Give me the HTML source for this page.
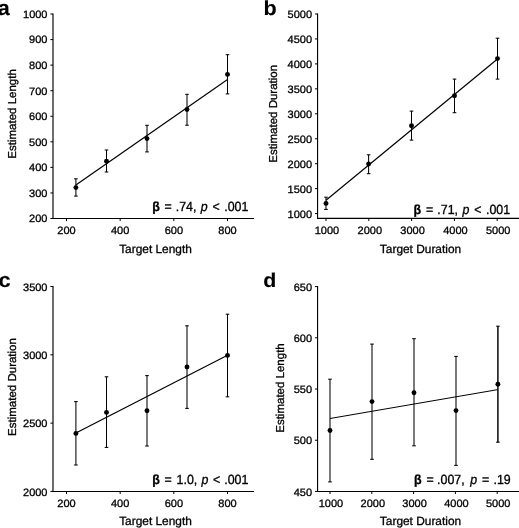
<!DOCTYPE html>
<html><head><meta charset="utf-8"><title>Figure</title>
<style>
html,body{margin:0;padding:0;background:#fff;}
svg{display:block;font-family:"Liberation Sans",sans-serif;fill:#000;text-rendering:geometricPrecision;will-change:transform;filter:grayscale(1);}
text{stroke:#000;stroke-width:0.3px;}
</style></head><body>
<svg width="519" height="528" viewBox="0 0 519 528">
<rect width="519" height="528" fill="#fff"/>
<line x1="53.00" y1="13.50" x2="53.00" y2="219.00" stroke="#000" stroke-width="1.15" />
<line x1="52.50" y1="218.50" x2="254.00" y2="218.50" stroke="#000" stroke-width="1.15" />
<line x1="50.40" y1="218.50" x2="53.00" y2="218.50" stroke="#000" stroke-width="1.0" />
<text transform="translate(47.50,222.40) scale(1.03,1.0)" font-size="10.7" text-anchor="end" font-weight="normal" >200</text>
<line x1="50.40" y1="192.94" x2="53.00" y2="192.94" stroke="#000" stroke-width="1.0" />
<text transform="translate(47.50,196.84) scale(1.03,1.0)" font-size="10.7" text-anchor="end" font-weight="normal" >300</text>
<line x1="50.40" y1="167.38" x2="53.00" y2="167.38" stroke="#000" stroke-width="1.0" />
<text transform="translate(47.50,171.28) scale(1.03,1.0)" font-size="10.7" text-anchor="end" font-weight="normal" >400</text>
<line x1="50.40" y1="141.82" x2="53.00" y2="141.82" stroke="#000" stroke-width="1.0" />
<text transform="translate(47.50,145.72) scale(1.03,1.0)" font-size="10.7" text-anchor="end" font-weight="normal" >500</text>
<line x1="50.40" y1="116.26" x2="53.00" y2="116.26" stroke="#000" stroke-width="1.0" />
<text transform="translate(47.50,120.16) scale(1.03,1.0)" font-size="10.7" text-anchor="end" font-weight="normal" >600</text>
<line x1="50.40" y1="90.70" x2="53.00" y2="90.70" stroke="#000" stroke-width="1.0" />
<text transform="translate(47.50,94.60) scale(1.03,1.0)" font-size="10.7" text-anchor="end" font-weight="normal" >700</text>
<line x1="50.40" y1="65.14" x2="53.00" y2="65.14" stroke="#000" stroke-width="1.0" />
<text transform="translate(47.50,69.04) scale(1.03,1.0)" font-size="10.7" text-anchor="end" font-weight="normal" >800</text>
<line x1="50.40" y1="39.58" x2="53.00" y2="39.58" stroke="#000" stroke-width="1.0" />
<text transform="translate(47.50,43.48) scale(1.03,1.0)" font-size="10.7" text-anchor="end" font-weight="normal" >900</text>
<line x1="50.40" y1="14.02" x2="53.00" y2="14.02" stroke="#000" stroke-width="1.0" />
<text transform="translate(47.50,17.92) scale(1.03,1.0)" font-size="10.7" text-anchor="end" font-weight="normal" >1000</text>
<line x1="66.50" y1="218.50" x2="66.50" y2="221.10" stroke="#000" stroke-width="1.0" />
<text transform="translate(66.50,233.80) scale(1.03,1.0)" font-size="10.7" text-anchor="middle" font-weight="normal" >200</text>
<line x1="120.17" y1="218.50" x2="120.17" y2="221.10" stroke="#000" stroke-width="1.0" />
<text transform="translate(120.17,233.80) scale(1.03,1.0)" font-size="10.7" text-anchor="middle" font-weight="normal" >400</text>
<line x1="173.83" y1="218.50" x2="173.83" y2="221.10" stroke="#000" stroke-width="1.0" />
<text transform="translate(173.83,233.80) scale(1.03,1.0)" font-size="10.7" text-anchor="middle" font-weight="normal" >600</text>
<line x1="227.50" y1="218.50" x2="227.50" y2="221.10" stroke="#000" stroke-width="1.0" />
<text transform="translate(227.50,233.80) scale(1.03,1.0)" font-size="10.7" text-anchor="middle" font-weight="normal" >800</text>
<line x1="75.90" y1="178.80" x2="75.90" y2="196.10" stroke="#000" stroke-width="1.05" />
<line x1="74.10" y1="178.80" x2="77.70" y2="178.80" stroke="#000" stroke-width="1.05" />
<line x1="74.10" y1="196.10" x2="77.70" y2="196.10" stroke="#000" stroke-width="1.05" />
<line x1="106.50" y1="150.00" x2="106.50" y2="172.00" stroke="#000" stroke-width="1.05" />
<line x1="104.70" y1="150.00" x2="108.30" y2="150.00" stroke="#000" stroke-width="1.05" />
<line x1="104.70" y1="172.00" x2="108.30" y2="172.00" stroke="#000" stroke-width="1.05" />
<line x1="147.00" y1="125.30" x2="147.00" y2="151.90" stroke="#000" stroke-width="1.05" />
<line x1="145.20" y1="125.30" x2="148.80" y2="125.30" stroke="#000" stroke-width="1.05" />
<line x1="145.20" y1="151.90" x2="148.80" y2="151.90" stroke="#000" stroke-width="1.05" />
<line x1="187.00" y1="94.30" x2="187.00" y2="125.20" stroke="#000" stroke-width="1.05" />
<line x1="185.20" y1="94.30" x2="188.80" y2="94.30" stroke="#000" stroke-width="1.05" />
<line x1="185.20" y1="125.20" x2="188.80" y2="125.20" stroke="#000" stroke-width="1.05" />
<line x1="227.50" y1="54.70" x2="227.50" y2="93.90" stroke="#000" stroke-width="1.05" />
<line x1="225.70" y1="54.70" x2="229.30" y2="54.70" stroke="#000" stroke-width="1.05" />
<line x1="225.70" y1="93.90" x2="229.30" y2="93.90" stroke="#000" stroke-width="1.05" />
<line x1="75.90" y1="185.00" x2="227.50" y2="79.40" stroke="#000" stroke-width="1.2" />
<circle cx="75.90" cy="187.60" r="2.45" fill="#000"/>
<circle cx="106.50" cy="161.20" r="2.45" fill="#000"/>
<circle cx="147.00" cy="138.60" r="2.45" fill="#000"/>
<circle cx="187.00" cy="109.50" r="2.45" fill="#000"/>
<circle cx="227.50" cy="74.40" r="2.45" fill="#000"/>
<text transform="translate(155.50,252.80)" font-size="11.9" text-anchor="middle" font-weight="normal" >Target Length</text>
<text transform="translate(15.50,113.90) rotate(-90)" font-size="11.5" text-anchor="middle" font-weight="normal" >Estimated Length</text>
<text transform="translate(152.20,211.20) scale(1.0,1.07)" font-size="12.4" text-anchor="start" font-weight="bold" >β</text>
<text transform="translate(164.50,211.20) scale(1.0,1.07)" font-size="12.4" text-anchor="start" font-weight="normal" >=</text>
<text transform="translate(175.70,211.20) scale(1.0,1.07)" font-size="12.4" text-anchor="start" font-weight="normal" >.74,</text>
<text transform="translate(200.75,211.20) scale(1.0,1.07)" font-size="12.4" text-anchor="start" font-weight="normal" font-style="italic">p</text>
<text transform="translate(212.60,211.20) scale(1.0,1.07)" font-size="12.4" text-anchor="start" font-weight="normal" >&lt;</text>
<text transform="translate(224.20,211.20) scale(1.0,1.07)" font-size="12.4" text-anchor="start" font-weight="normal" >.001</text>
<text transform="translate(-2.30,14.70) scale(1.04,1.0)" font-size="20.8" text-anchor="start" font-weight="bold" style="stroke-width:0.1px">a</text>
<line x1="317.55" y1="13.40" x2="317.55" y2="218.90" stroke="#000" stroke-width="1.15" />
<line x1="317.05" y1="218.40" x2="519.00" y2="218.40" stroke="#000" stroke-width="1.15" />
<line x1="314.95" y1="213.60" x2="317.55" y2="213.60" stroke="#000" stroke-width="1.0" />
<text transform="translate(312.05,217.90) scale(1.03,1.0)" font-size="10.7" text-anchor="end" font-weight="normal" >1000</text>
<line x1="314.95" y1="188.65" x2="317.55" y2="188.65" stroke="#000" stroke-width="1.0" />
<text transform="translate(312.05,192.95) scale(1.03,1.0)" font-size="10.7" text-anchor="end" font-weight="normal" >1500</text>
<line x1="314.95" y1="163.70" x2="317.55" y2="163.70" stroke="#000" stroke-width="1.0" />
<text transform="translate(312.05,168.00) scale(1.03,1.0)" font-size="10.7" text-anchor="end" font-weight="normal" >2000</text>
<line x1="314.95" y1="138.75" x2="317.55" y2="138.75" stroke="#000" stroke-width="1.0" />
<text transform="translate(312.05,143.05) scale(1.03,1.0)" font-size="10.7" text-anchor="end" font-weight="normal" >2500</text>
<line x1="314.95" y1="113.80" x2="317.55" y2="113.80" stroke="#000" stroke-width="1.0" />
<text transform="translate(312.05,118.10) scale(1.03,1.0)" font-size="10.7" text-anchor="end" font-weight="normal" >3000</text>
<line x1="314.95" y1="88.85" x2="317.55" y2="88.85" stroke="#000" stroke-width="1.0" />
<text transform="translate(312.05,93.15) scale(1.03,1.0)" font-size="10.7" text-anchor="end" font-weight="normal" >3500</text>
<line x1="314.95" y1="63.90" x2="317.55" y2="63.90" stroke="#000" stroke-width="1.0" />
<text transform="translate(312.05,68.20) scale(1.03,1.0)" font-size="10.7" text-anchor="end" font-weight="normal" >4000</text>
<line x1="314.95" y1="38.95" x2="317.55" y2="38.95" stroke="#000" stroke-width="1.0" />
<text transform="translate(312.05,43.25) scale(1.03,1.0)" font-size="10.7" text-anchor="end" font-weight="normal" >4500</text>
<line x1="314.95" y1="14.00" x2="317.55" y2="14.00" stroke="#000" stroke-width="1.0" />
<text transform="translate(312.05,18.30) scale(1.03,1.0)" font-size="10.7" text-anchor="end" font-weight="normal" >5000</text>
<line x1="326.00" y1="218.40" x2="326.00" y2="221.00" stroke="#000" stroke-width="1.0" />
<text transform="translate(327.00,233.70) scale(1.03,1.0)" font-size="10.7" text-anchor="middle" font-weight="normal" >1000</text>
<line x1="368.80" y1="218.40" x2="368.80" y2="221.00" stroke="#000" stroke-width="1.0" />
<text transform="translate(369.80,233.70) scale(1.03,1.0)" font-size="10.7" text-anchor="middle" font-weight="normal" >2000</text>
<line x1="411.60" y1="218.40" x2="411.60" y2="221.00" stroke="#000" stroke-width="1.0" />
<text transform="translate(412.60,233.70) scale(1.03,1.0)" font-size="10.7" text-anchor="middle" font-weight="normal" >3000</text>
<line x1="454.40" y1="218.40" x2="454.40" y2="221.00" stroke="#000" stroke-width="1.0" />
<text transform="translate(455.40,233.70) scale(1.03,1.0)" font-size="10.7" text-anchor="middle" font-weight="normal" >4000</text>
<line x1="497.20" y1="218.40" x2="497.20" y2="221.00" stroke="#000" stroke-width="1.0" />
<text transform="translate(498.20,233.70) scale(1.03,1.0)" font-size="10.7" text-anchor="middle" font-weight="normal" >5000</text>
<line x1="326.00" y1="197.20" x2="326.00" y2="209.40" stroke="#000" stroke-width="1.05" />
<line x1="324.20" y1="197.20" x2="327.80" y2="197.20" stroke="#000" stroke-width="1.05" />
<line x1="324.20" y1="209.40" x2="327.80" y2="209.40" stroke="#000" stroke-width="1.05" />
<line x1="368.60" y1="154.80" x2="368.60" y2="173.70" stroke="#000" stroke-width="1.05" />
<line x1="366.80" y1="154.80" x2="370.40" y2="154.80" stroke="#000" stroke-width="1.05" />
<line x1="366.80" y1="173.70" x2="370.40" y2="173.70" stroke="#000" stroke-width="1.05" />
<line x1="411.50" y1="111.10" x2="411.50" y2="140.10" stroke="#000" stroke-width="1.05" />
<line x1="409.70" y1="111.10" x2="413.30" y2="111.10" stroke="#000" stroke-width="1.05" />
<line x1="409.70" y1="140.10" x2="413.30" y2="140.10" stroke="#000" stroke-width="1.05" />
<line x1="454.50" y1="79.10" x2="454.50" y2="112.70" stroke="#000" stroke-width="1.05" />
<line x1="452.70" y1="79.10" x2="456.30" y2="79.10" stroke="#000" stroke-width="1.05" />
<line x1="452.70" y1="112.70" x2="456.30" y2="112.70" stroke="#000" stroke-width="1.05" />
<line x1="497.50" y1="38.20" x2="497.50" y2="79.10" stroke="#000" stroke-width="1.05" />
<line x1="495.70" y1="38.20" x2="499.30" y2="38.20" stroke="#000" stroke-width="1.05" />
<line x1="495.70" y1="79.10" x2="499.30" y2="79.10" stroke="#000" stroke-width="1.05" />
<line x1="326.00" y1="200.30" x2="497.50" y2="59.00" stroke="#000" stroke-width="1.2" />
<circle cx="326.00" cy="203.40" r="2.45" fill="#000"/>
<circle cx="368.60" cy="164.00" r="2.45" fill="#000"/>
<circle cx="411.50" cy="125.80" r="2.45" fill="#000"/>
<circle cx="454.50" cy="95.70" r="2.45" fill="#000"/>
<circle cx="497.50" cy="58.60" r="2.45" fill="#000"/>
<text transform="translate(420.50,252.60)" font-size="11.9" text-anchor="middle" font-weight="normal" >Target Duration</text>
<text transform="translate(276.50,113.80) rotate(-90)" font-size="11.5" text-anchor="middle" font-weight="normal" >Estimated Duration</text>
<text transform="translate(413.60,213.60) scale(1.0,1.07)" font-size="12.4" text-anchor="start" font-weight="bold" >β</text>
<text transform="translate(426.00,213.60) scale(1.0,1.07)" font-size="12.4" text-anchor="start" font-weight="normal" >=</text>
<text transform="translate(437.30,213.60) scale(1.0,1.07)" font-size="12.4" text-anchor="start" font-weight="normal" >.71,</text>
<text transform="translate(462.40,213.60) scale(1.0,1.07)" font-size="12.4" text-anchor="start" font-weight="normal" font-style="italic">p</text>
<text transform="translate(474.30,213.60) scale(1.0,1.07)" font-size="12.4" text-anchor="start" font-weight="normal" >&lt;</text>
<text transform="translate(486.00,213.60) scale(1.0,1.07)" font-size="12.4" text-anchor="start" font-weight="normal" >.001</text>
<text transform="translate(263.50,14.70) scale(1.06,1.0)" font-size="20.4" text-anchor="start" font-weight="bold" style="stroke-width:0.1px">b</text>
<line x1="53.00" y1="286.00" x2="53.00" y2="491.95" stroke="#000" stroke-width="1.15" />
<line x1="52.50" y1="491.45" x2="254.00" y2="491.45" stroke="#000" stroke-width="1.15" />
<line x1="50.40" y1="491.45" x2="53.00" y2="491.45" stroke="#000" stroke-width="1.0" />
<text transform="translate(47.50,495.55) scale(1.03,1.0)" font-size="10.7" text-anchor="end" font-weight="normal" >2000</text>
<line x1="50.40" y1="423.13" x2="53.00" y2="423.13" stroke="#000" stroke-width="1.0" />
<text transform="translate(47.50,427.24) scale(1.03,1.0)" font-size="10.7" text-anchor="end" font-weight="normal" >2500</text>
<line x1="50.40" y1="354.82" x2="53.00" y2="354.82" stroke="#000" stroke-width="1.0" />
<text transform="translate(47.50,358.92) scale(1.03,1.0)" font-size="10.7" text-anchor="end" font-weight="normal" >3000</text>
<line x1="50.40" y1="286.50" x2="53.00" y2="286.50" stroke="#000" stroke-width="1.0" />
<text transform="translate(47.50,290.61) scale(1.03,1.0)" font-size="10.7" text-anchor="end" font-weight="normal" >3500</text>
<line x1="66.50" y1="491.45" x2="66.50" y2="494.05" stroke="#000" stroke-width="1.0" />
<text transform="translate(66.50,506.75) scale(1.03,1.0)" font-size="10.7" text-anchor="middle" font-weight="normal" >200</text>
<line x1="120.17" y1="491.45" x2="120.17" y2="494.05" stroke="#000" stroke-width="1.0" />
<text transform="translate(120.17,506.75) scale(1.03,1.0)" font-size="10.7" text-anchor="middle" font-weight="normal" >400</text>
<line x1="173.83" y1="491.45" x2="173.83" y2="494.05" stroke="#000" stroke-width="1.0" />
<text transform="translate(173.83,506.75) scale(1.03,1.0)" font-size="10.7" text-anchor="middle" font-weight="normal" >600</text>
<line x1="227.50" y1="491.45" x2="227.50" y2="494.05" stroke="#000" stroke-width="1.0" />
<text transform="translate(227.50,506.75) scale(1.03,1.0)" font-size="10.7" text-anchor="middle" font-weight="normal" >800</text>
<line x1="75.90" y1="401.60" x2="75.90" y2="465.00" stroke="#000" stroke-width="1.05" />
<line x1="74.10" y1="401.60" x2="77.70" y2="401.60" stroke="#000" stroke-width="1.05" />
<line x1="74.10" y1="465.00" x2="77.70" y2="465.00" stroke="#000" stroke-width="1.05" />
<line x1="106.50" y1="376.80" x2="106.50" y2="447.40" stroke="#000" stroke-width="1.05" />
<line x1="104.70" y1="376.80" x2="108.30" y2="376.80" stroke="#000" stroke-width="1.05" />
<line x1="104.70" y1="447.40" x2="108.30" y2="447.40" stroke="#000" stroke-width="1.05" />
<line x1="147.00" y1="375.60" x2="147.00" y2="446.00" stroke="#000" stroke-width="1.05" />
<line x1="145.20" y1="375.60" x2="148.80" y2="375.60" stroke="#000" stroke-width="1.05" />
<line x1="145.20" y1="446.00" x2="148.80" y2="446.00" stroke="#000" stroke-width="1.05" />
<line x1="187.00" y1="325.80" x2="187.00" y2="408.40" stroke="#000" stroke-width="1.05" />
<line x1="185.20" y1="325.80" x2="188.80" y2="325.80" stroke="#000" stroke-width="1.05" />
<line x1="185.20" y1="408.40" x2="188.80" y2="408.40" stroke="#000" stroke-width="1.05" />
<line x1="227.50" y1="314.20" x2="227.50" y2="396.80" stroke="#000" stroke-width="1.05" />
<line x1="225.70" y1="314.20" x2="229.30" y2="314.20" stroke="#000" stroke-width="1.05" />
<line x1="225.70" y1="396.80" x2="229.30" y2="396.80" stroke="#000" stroke-width="1.05" />
<line x1="75.90" y1="433.00" x2="227.50" y2="355.20" stroke="#000" stroke-width="1.2" />
<circle cx="75.90" cy="433.40" r="2.45" fill="#000"/>
<circle cx="106.50" cy="412.40" r="2.45" fill="#000"/>
<circle cx="147.00" cy="410.70" r="2.45" fill="#000"/>
<circle cx="187.00" cy="367.00" r="2.45" fill="#000"/>
<circle cx="227.50" cy="355.40" r="2.45" fill="#000"/>
<text transform="translate(155.50,524.60)" font-size="11.9" text-anchor="middle" font-weight="normal" >Target Length</text>
<text transform="translate(16.20,387.00) rotate(-90)" font-size="11.5" text-anchor="middle" font-weight="normal" >Estimated Duration</text>
<text transform="translate(152.20,484.20) scale(1.0,1.07)" font-size="12.4" text-anchor="start" font-weight="bold" >β</text>
<text transform="translate(164.50,484.20) scale(1.0,1.07)" font-size="12.4" text-anchor="start" font-weight="normal" >=</text>
<text transform="translate(176.60,484.20) scale(1.0,1.07)" font-size="12.4" text-anchor="start" font-weight="normal" >1.0,</text>
<text transform="translate(201.40,484.20) scale(1.0,1.07)" font-size="12.4" text-anchor="start" font-weight="normal" font-style="italic">p</text>
<text transform="translate(212.90,484.20) scale(1.0,1.07)" font-size="12.4" text-anchor="start" font-weight="normal" >&lt;</text>
<text transform="translate(224.20,484.20) scale(1.0,1.07)" font-size="12.4" text-anchor="start" font-weight="normal" >.001</text>
<text transform="translate(-1.50,287.30) scale(1.06,1.0)" font-size="20.6" text-anchor="start" font-weight="bold" style="stroke-width:0.1px">c</text>
<line x1="317.55" y1="286.10" x2="317.55" y2="491.95" stroke="#000" stroke-width="1.15" />
<line x1="317.05" y1="491.45" x2="519.00" y2="491.45" stroke="#000" stroke-width="1.15" />
<line x1="314.95" y1="491.45" x2="317.55" y2="491.45" stroke="#000" stroke-width="1.0" />
<text transform="translate(312.05,495.65) scale(1.03,1.0)" font-size="10.7" text-anchor="end" font-weight="normal" >450</text>
<line x1="314.95" y1="440.24" x2="317.55" y2="440.24" stroke="#000" stroke-width="1.0" />
<text transform="translate(312.05,444.44) scale(1.03,1.0)" font-size="10.7" text-anchor="end" font-weight="normal" >500</text>
<line x1="314.95" y1="389.02" x2="317.55" y2="389.02" stroke="#000" stroke-width="1.0" />
<text transform="translate(312.05,393.22) scale(1.03,1.0)" font-size="10.7" text-anchor="end" font-weight="normal" >550</text>
<line x1="314.95" y1="337.80" x2="317.55" y2="337.80" stroke="#000" stroke-width="1.0" />
<text transform="translate(312.05,342.00) scale(1.03,1.0)" font-size="10.7" text-anchor="end" font-weight="normal" >600</text>
<line x1="314.95" y1="286.59" x2="317.55" y2="286.59" stroke="#000" stroke-width="1.0" />
<text transform="translate(312.05,290.79) scale(1.03,1.0)" font-size="10.7" text-anchor="end" font-weight="normal" >650</text>
<line x1="330.00" y1="491.45" x2="330.00" y2="494.05" stroke="#000" stroke-width="1.0" />
<text transform="translate(331.00,506.75) scale(1.03,1.0)" font-size="10.7" text-anchor="middle" font-weight="normal" >1000</text>
<line x1="371.80" y1="491.45" x2="371.80" y2="494.05" stroke="#000" stroke-width="1.0" />
<text transform="translate(372.80,506.75) scale(1.03,1.0)" font-size="10.7" text-anchor="middle" font-weight="normal" >2000</text>
<line x1="413.60" y1="491.45" x2="413.60" y2="494.05" stroke="#000" stroke-width="1.0" />
<text transform="translate(414.60,506.75) scale(1.03,1.0)" font-size="10.7" text-anchor="middle" font-weight="normal" >3000</text>
<line x1="455.40" y1="491.45" x2="455.40" y2="494.05" stroke="#000" stroke-width="1.0" />
<text transform="translate(456.40,506.75) scale(1.03,1.0)" font-size="10.7" text-anchor="middle" font-weight="normal" >4000</text>
<line x1="497.20" y1="491.45" x2="497.20" y2="494.05" stroke="#000" stroke-width="1.0" />
<text transform="translate(498.20,506.75) scale(1.03,1.0)" font-size="10.7" text-anchor="middle" font-weight="normal" >5000</text>
<line x1="330.00" y1="379.20" x2="330.00" y2="481.90" stroke="#000" stroke-width="1.05" />
<line x1="328.20" y1="379.20" x2="331.80" y2="379.20" stroke="#000" stroke-width="1.05" />
<line x1="328.20" y1="481.90" x2="331.80" y2="481.90" stroke="#000" stroke-width="1.05" />
<line x1="372.00" y1="344.10" x2="372.00" y2="459.30" stroke="#000" stroke-width="1.05" />
<line x1="370.20" y1="344.10" x2="373.80" y2="344.10" stroke="#000" stroke-width="1.05" />
<line x1="370.20" y1="459.30" x2="373.80" y2="459.30" stroke="#000" stroke-width="1.05" />
<line x1="414.00" y1="338.70" x2="414.00" y2="445.80" stroke="#000" stroke-width="1.05" />
<line x1="412.20" y1="338.70" x2="415.80" y2="338.70" stroke="#000" stroke-width="1.05" />
<line x1="412.20" y1="445.80" x2="415.80" y2="445.80" stroke="#000" stroke-width="1.05" />
<line x1="456.00" y1="356.40" x2="456.00" y2="465.40" stroke="#000" stroke-width="1.05" />
<line x1="454.20" y1="356.40" x2="457.80" y2="356.40" stroke="#000" stroke-width="1.05" />
<line x1="454.20" y1="465.40" x2="457.80" y2="465.40" stroke="#000" stroke-width="1.05" />
<line x1="497.90" y1="326.20" x2="497.90" y2="442.20" stroke="#000" stroke-width="1.45" />
<line x1="496.10" y1="326.20" x2="499.70" y2="326.20" stroke="#000" stroke-width="1.05" />
<line x1="496.10" y1="442.20" x2="499.70" y2="442.20" stroke="#000" stroke-width="1.05" />
<line x1="330.00" y1="418.50" x2="497.90" y2="389.60" stroke="#000" stroke-width="1.0" />
<circle cx="330.00" cy="430.50" r="2.45" fill="#000"/>
<circle cx="372.00" cy="401.60" r="2.45" fill="#000"/>
<circle cx="414.00" cy="392.70" r="2.45" fill="#000"/>
<circle cx="456.00" cy="410.60" r="2.45" fill="#000"/>
<circle cx="497.90" cy="384.30" r="2.45" fill="#000"/>
<text transform="translate(420.50,524.60)" font-size="11.9" text-anchor="middle" font-weight="normal" >Target Duration</text>
<text transform="translate(283.80,388.00) rotate(-90)" font-size="11.5" text-anchor="middle" font-weight="normal" >Estimated Length</text>
<text transform="translate(413.90,483.80) scale(1.0,1.07)" font-size="12.4" text-anchor="start" font-weight="bold" >β</text>
<text transform="translate(426.40,483.80) scale(1.0,1.07)" font-size="12.4" text-anchor="start" font-weight="normal" >=</text>
<text transform="translate(437.10,483.80) scale(1.0,1.07)" font-size="12.4" text-anchor="start" font-weight="normal" >.007,</text>
<text transform="translate(470.20,483.80) scale(1.0,1.07)" font-size="12.4" text-anchor="start" font-weight="normal" font-style="italic">p</text>
<text transform="translate(481.90,483.80) scale(1.0,1.07)" font-size="12.4" text-anchor="start" font-weight="normal" >=</text>
<text transform="translate(493.50,483.80) scale(1.0,1.07)" font-size="12.4" text-anchor="start" font-weight="normal" >.19</text>
<text transform="translate(263.35,286.80) scale(1.08,1.0)" font-size="19.8" text-anchor="start" font-weight="bold" style="stroke-width:0.1px">d</text>
</svg>
</body></html>
